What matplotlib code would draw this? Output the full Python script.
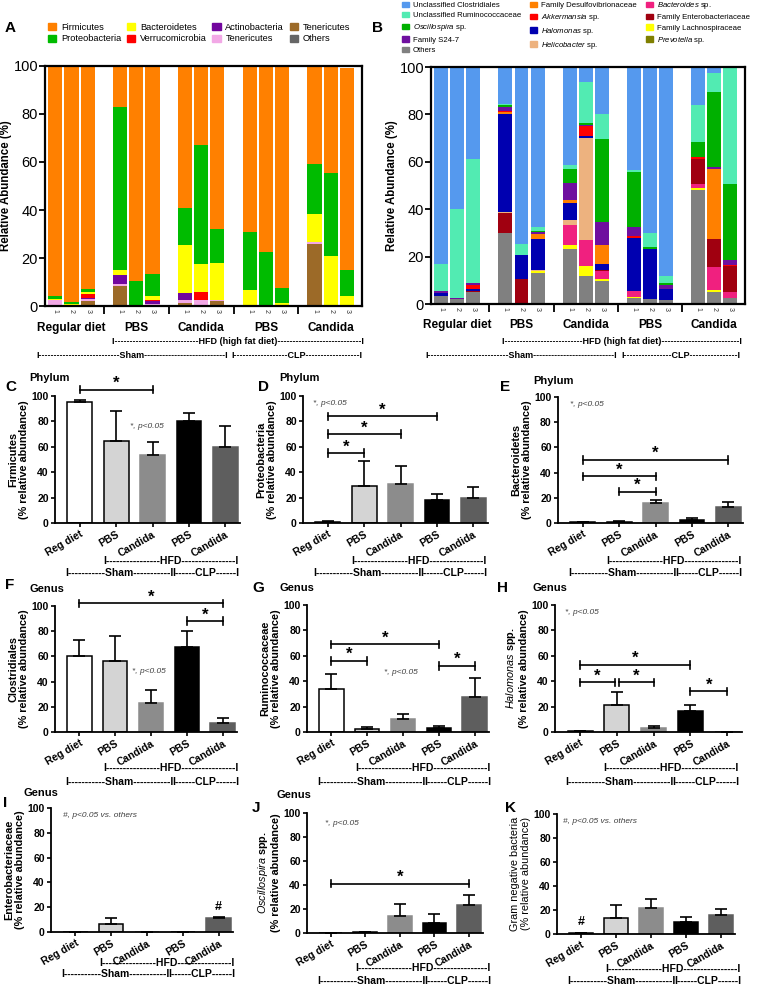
import matplotlib
matplotlib.use('Agg')
import matplotlib.pyplot as plt
import numpy as np
from matplotlib.patches import Patch
from matplotlib.textpath import TextPath
from matplotlib.font_manager import FontProperties
import matplotlib.transforms as mtrans

plt.rcParams['font.family'] = ['Liberation Sans', 'DejaVu Sans']
plt.rcParams['mathtext.fontset'] = 'custom'
plt.rcParams['mathtext.it'] = 'Liberation Sans:italic'
plt.rcParams['mathtext.rm'] = 'Liberation Sans'
plt.rcParams['mathtext.bf'] = 'Liberation Sans:bold'

# ---------------- data: panel A (phylum, 15 mice) ----------------
groups = ["Regular diet", "PBS", "Candida", "PBS", "Candida"]
mouse_ids = ["1", "2", "3"] * 5
slots = [0, 1, 2, 4, 5, 6, 8, 9, 10, 12, 13, 14, 16, 17, 18]

a_others = [0, 0, 0, 0, 0, 0, 0, 0, 0, 0, 0, 0, 0, 0, 0]
a_tener_brown = [0, 0, 2.0, 8.3, 0, 0, 1.3, 0, 2.0, 0, 0, 0, 26.0, 0, 0]
a_tener_pink = [2.3, 0.3, 1.0, 1.0, 0, 1.0, 1.4, 2.5, 0.3, 0, 0, 0, 0.7, 0.3, 0]
a_actino = [0, 0, 0.3, 3.7, 0, 1.2, 2.8, 0, 0, 0, 0, 0, 0, 0, 0]
a_verruco = [0, 0, 1.7, 0, 0, 0.3, 0, 3.3, 0, 0, 0, 0, 0, 0, 0]
a_bacteroid = [0.7, 0.5, 1.0, 2.0, 0.3, 1.5, 20.0, 11.7, 15.6, 6.5, 0.5, 1.3, 11.7, 20.5, 4.3]
a_proteo = [1.2, 1.0, 1.0, 68.0, 10.0, 9.3, 15.5, 49.5, 14.0, 24.3, 21.8, 6.0, 20.6, 34.5, 10.7]
a_firmi = [95.8, 98.2, 93.0, 17.0, 89.7, 86.7, 59.0, 33.0, 68.1, 69.2, 77.7, 92.7, 41.0, 44.7, 84.0]

# ---------------- data: panel B (genus, 15 mice) ----------------
b_others = [3.5, 2.0, 5.0, 30, 0, 13, 23, 12, 9.5, 2.5, 2, 1.5, 48, 5, 2.5]
b_lachno = [0, 0, 0, 0, 0, 1, 2, 4, 1, 0.5, 0, 0, 1, 1, 0]
b_prevotella = [0, 0, 0, 0, 0, 0, 0, 0, 0, 0, 0, 0, 0, 0, 0]
b_bacteroides = [0, 0, 0, 0, 0, 0, 8.5, 11, 3.5, 2.5, 0, 0, 1.5, 9.5, 2.5]
b_entero = [0, 0, 0.5, 8.5, 10.5, 0, 0, 0, 0.5, 0, 0, 0, 10.5, 12, 11]
b_helico = [0, 0, 0, 0.5, 0, 0.5, 2, 43, 0, 0, 0, 0, 0, 0, 0]
b_halo = [1.3, 0, 1.0, 41, 10, 13, 7, 1, 2.2, 22.5, 21, 5, 0, 0, 0]
b_desulfo = [0, 0, 0, 1, 0, 2, 1.5, 0, 8, 0, 0, 0, 0, 29.5, 0]
b_akk = [0, 0, 1.5, 0.5, 0, 0, 0, 4, 0, 0.5, 0, 0, 1, 0, 0.5]
b_s24 = [0.5, 0.5, 1.0, 1.5, 0, 0.8, 7, 0.5, 10, 4, 0, 1.5, 0, 1, 2]
b_oscillo = [0, 0, 0, 1, 0, 0.7, 6, 1, 35, 23, 1, 1, 6.5, 31.5, 32]
b_rumino = [11.7, 37.5, 52, 0.5, 5, 1.5, 1.5, 17, 10.3, 1, 6, 3, 15.5, 8, 49]
b_clost = [83, 60, 39, 15.5, 74.5, 67.5, 41.5, 6.5, 20, 43.5, 70, 88, 16, 2.5, 0.5]

# ---------------- data: panels C-K (mean, SEM) ----------------
bar_cats = ["Reg diet", "PBS", "Candida", "PBS", "Candida"]
firm_mean = [95.5, 64.5, 53.5, 80.0, 60.0]
firm_sem = [1.0, 23.5, 10.5, 6.5, 16.5]
proteo_mean = [1.0, 29.5, 30.5, 18.0, 19.5]
proteo_sem = [0.5, 19.0, 14.5, 5.0, 9.0]
bactd_mean = [0.5, 1.0, 16.0, 2.5, 12.5]
bactd_sem = [0.5, 0.5, 2.0, 1.5, 4.5]
clost_mean = [60.5, 56.0, 23.0, 67.5, 7.0]
clost_sem = [12.5, 20.5, 10.0, 13.0, 4.5]
rumino_mean = [34.0, 2.5, 10.0, 3.5, 27.5]
rumino_sem = [11.5, 1.3, 4.0, 1.5, 15.0]
halo_mean = [0.5, 21.5, 3.5, 16.5, 0.2]
halo_sem = [0.5, 10.0, 1.5, 5.0, 0.1]
entero_mean = [0.0, 6.5, 0.2, 0.0, 11.5]
entero_sem = [0.0, 4.5, 0.1, 0.0, 0.5]
oscillo_mean = [0.0, 0.5, 14.5, 8.5, 23.5]
oscillo_sem = [0.0, 0.3, 10.0, 7.0, 8.0]
gramneg_mean = [0.5, 13.5, 21.5, 10.0, 16.0]
gramneg_sem = [0.3, 11.0, 7.5, 4.0, 4.5]

W, H = 758, 985
fig = plt.figure(figsize=(W / 100, H / 100), dpi=100)


def axes_px(l, t, r, b):
    return fig.add_axes([l / W, 1 - b / H, (r - l) / W, (b - t) / H])


def ftext(x, y, s, **kw):
    return fig.text(x / W, 1 - y / H, s, **kw)


def tw(s, fs):
    fp = FontProperties(family='Liberation Sans', weight='bold')
    return TextPath((0, 0), s, size=fs, prop=fp).get_extents().width * 100 / 72


def dashed(x0, x1, y, label, fs):
    dw = (tw('-' * 21, fs) - tw('-', fs)) / 20
    core = tw('I' + label + 'I', fs)
    n = max(1, int(round((x1 - x0 - core) / dw / 2)))
    s = 'I' + '-' * n + label + '-' * n + 'I'
    ftext((x0 + x1) / 2, y, s, ha='center', va='center', fontsize=fs,
          fontweight='bold')


# ---------------- Panel A ----------------
axA = axes_px(45, 66, 362, 306)
a_layers = [
    (a_others, '#666666'), (a_tener_brown, '#9C6A28'), (a_tener_pink, '#F2A8E6'),
    (a_actino, '#72069E'), (a_verruco, '#FF0000'), (a_bacteroid, '#FFFF00'),
    (a_proteo, '#00BB00'), (a_firmi, '#FF8000'),
]
bottom = np.zeros(15)
for vals, col in a_layers:
    axA.bar(slots, vals, width=0.88, bottom=bottom, color=col, linewidth=0)
    bottom += np.array(vals)

# ---------------- Panel B ----------------
axB = axes_px(431, 67, 745, 304)
b_layers = [
    (b_others, '#808080'), (b_lachno, '#FFFF00'), (b_prevotella, '#7F7F00'),
    (b_bacteroides, '#F0207F'), (b_entero, '#A00010'), (b_helico, '#EDB27F'),
    (b_halo, '#0000B0'), (b_desulfo, '#FF8000'), (b_akk, '#FF0000'),
    (b_s24, '#6F0F9F'), (b_oscillo, '#00B000'), (b_rumino, '#52EBB2'),
    (b_clost, '#5599EE'),
]
bottom = np.zeros(15)
for vals, col in b_layers:
    axB.bar(slots, vals, width=0.87, bottom=bottom, color=col, linewidth=0)
    bottom += np.array(vals)

for ax in (axA, axB):
    ax.set_ylim(0, 100)
    ax.set_xlim(-0.64, 18.93)
    ax.set_yticks([0, 20, 40, 60, 80, 100])
    ax.tick_params(axis='y', labelsize=10.5, width=1.3, length=4, pad=1)
    for sp in ax.spines.values():
        sp.set_linewidth(1.6)
    ax.set_xticks([3, 7, 11, 15])
    ax.set_xticklabels([])
    ax.tick_params(axis='x', which='major', length=6, width=1.3)
    ax.set_xticks(slots, minor=True)
    ax.set_xticklabels(mouse_ids, minor=True)
    ax.tick_params(axis='x', which='minor', length=0, labelsize=5, labelrotation=-90,
                   pad=2, labelcolor='#333333')
    ax.set_ylabel('Relative Abundance (%)', fontsize=8.3, fontweight='bold', labelpad=1)
    trans = mtrans.blended_transform_factory(ax.transData, ax.transAxes)
    for gi, g in enumerate(groups):
        ax.text(slots[gi * 3 + 1], -0.09, g, transform=trans, ha='center', va='center',
                fontsize=8.5, fontweight='bold')

# lines under A and B
dashed(113, 362, 341, 'HFD (high fat diet)', 6.5)
dashed(37, 228, 355, 'Sham', 6.5)
dashed(232, 362, 355, 'CLP', 6.5)
dashed(502, 741, 341, 'HFD (high fat diet)', 6.5)
dashed(427, 615, 355, 'Sham', 6.5)
dashed(620, 741, 355, 'CLP', 6.5)

# legend A
a_leg = [('Firmicutes', '#FF8000'), ('Proteobacteria', '#00BB00'),
         ('Bacteroidetes', '#FFFF00'), ('Verrucomicrobia', '#FF0000'),
         ('Actinobacteria', '#72069E'), ('Tenericutes', '#F2A8E6'),
         ('Tenericutes', '#9C6A28'), ('Others', '#666666')]
fig.legend([Patch(color=c) for _, c in a_leg], [n for n, _ in a_leg], ncol=4,
           loc='upper left', bbox_to_anchor=(48 / W, 1 - 23 / H), frameon=False,
           fontsize=6.7, handlelength=0.9, handleheight=0.8, handletextpad=0.5,
           columnspacing=0.6, labelspacing=0.25, borderpad=0, borderaxespad=0)

# legend B
b_leg = [('Unclassified Clostridiales', '#5599EE'),
         ('Unclassified Ruminococcaceae', '#52EBB2'),
         (r'$\it{Oscillospira}$ sp.', '#00B000'),
         ('Family S24-7', '#6F0F9F'),
         ('Others', '#808080'),
         ('Family Desulfovibrionaceae', '#FF8000'),
         (r'$\it{Akkermansia}$ sp.', '#FF0000'),
         (r'$\it{Halomonas}$ sp.', '#0000B0'),
         (r'$\it{Helicobacter}$ sp.', '#EDB27F'),
         (r'$\it{Bacteroides}$ sp.', '#F0207F'),
         ('Family Enterobacteriaceae', '#A00010'),
         ('Family Lachnospiraceae', '#FFFF00'),
         (r'$\it{Prevotella}$ sp.', '#7F7F00')]
fig.legend([Patch(color=c) for _, c in b_leg], [n for n, _ in b_leg], ncol=3,
           loc='upper left', bbox_to_anchor=(402 / W, 1 - 0 / H), frameon=False,
           fontsize=5.6, handlelength=0.9, handleheight=0.7, handletextpad=0.5,
           columnspacing=1.15, labelspacing=0.38, borderpad=0, borderaxespad=0)

ftext(5, 28, 'A', fontsize=11, fontweight='bold', va='center')
ftext(372, 28, 'B', fontsize=11, fontweight='bold', va='center')

# ---------------- Panels C-K ----------------
bar_colors = ['white', '#D4D4D4', '#8C8C8C', 'black', '#5E5E5E']
bar_edges = ['black', 'black', '#8C8C8C', 'black', '#5E5E5E']

panels = [
    dict(L='C', top='Phylum', m=firm_mean, e=firm_sem, rect=(55, 396, 240, 523),
         yl='Firmicutes\n(% relative abundance)', sig=[(0, 2, 105)],
         note=(1.85, 76, 'center', '*, p<0.05'), let=(5, 387), tpos=(50, 378), off=(38, 50)),
    dict(L='D', top='Phylum', m=proteo_mean, e=proteo_sem, rect=(303, 396, 488, 523),
         yl='Proteobacteria\n(% relative abundance)', sig=[(0, 1, 55), (0, 2, 70), (0, 3, 84)],
         note=(-0.4, 94, 'left', '*, p<0.05'), let=(258, 387), tpos=(300, 378), off=(38, 50)),
    dict(L='E', top='Phylum', m=bactd_mean, e=bactd_sem, rect=(558, 397, 743, 523),
         yl='Bacteroidetes\n(% relative abundance)', sig=[(1, 2, 25), (0, 2, 37), (0, 4, 50)],
         note=(-0.35, 94, 'left', '*, p<0.05'), let=(500, 387), tpos=(553, 381), off=(38, 50)),
    dict(L='F', top='Genus', m=clost_mean, e=clost_sem, rect=(55, 606, 237, 732),
         yl='Clostridiales\n(% relative abundance)', sig=[(3, 4, 88), (0, 4, 102)],
         note=(1.95, 48, 'center', '*, p<0.05'), let=(5, 585), tpos=(47, 589), off=(36, 50)),
    dict(L='G', top='Genus', m=rumino_mean, e=rumino_sem, rect=(307, 605, 489, 732),
         yl='Ruminococcaceae\n(% relative abundance)', sig=[(0, 1, 56), (3, 4, 52), (0, 3, 69)],
         note=(1.95, 47, 'center', '*, p<0.05'), let=(252, 588), tpos=(297, 588), off=(36, 50)),
    dict(L='H', top='Genus', m=halo_mean, e=halo_sem, rect=(555, 605, 742, 732),
         yl=r'$\it{Halomonas}$ spp.' + '\n(% relative abundance)',
         sig=[(0, 0.95, 39), (1.05, 2, 39), (3, 4, 32), (0, 3, 53)],
         note=(-0.4, 94, 'left', '*, p<0.05'), let=(497, 588), tpos=(550, 588), off=(36, 50)),
    dict(L='I', top='Genus', m=entero_mean, e=entero_sem, rect=(51, 808, 233, 932),
         yl='Enterobacteriaceae\n(% relative abundance)', sig=[], hashx=4, hashy=15,
         note=(-0.35, 94, 'left', '#, p<0.05 vs. others'), let=(3, 803), tpos=(41, 793), off=(31, 42)),
    dict(L='J', top='Genus', m=oscillo_mean, e=oscillo_sem, rect=(307, 813, 483, 933),
         yl=r'$\it{Oscillospira}$ spp.' + '\n(% relative abundance)', sig=[(0, 4, 41)],
         note=(-0.15, 91, 'left', '*, p<0.05'), let=(252, 808), tpos=(294, 795), off=(35, 48)),
    dict(L='K', top=None, m=gramneg_mean, e=gramneg_sem, rect=(557, 814, 735, 934),
         yl='Gram negative bacteria\n(% relative abundance)', sig=[], hashx=0, hashy=5,
         note=(-0.5, 94, 'left', '#, p<0.05 vs. others'), let=(505, 808), tpos=None, off=(35, 47)),
]

x = np.arange(5)
for p in panels:
    l, t, r, b = p['rect']
    ax = axes_px(l, t, r, b)
    ax.bar(x, p['m'], width=0.68, color=bar_colors, edgecolor=bar_edges, linewidth=1.1,
           zorder=2)
    ax.errorbar(x, p['m'], yerr=[np.zeros(5), p['e']], fmt='none', ecolor='black',
                elinewidth=1.2, capsize=4, capthick=1.2, zorder=3)
    ax.set_xlim(-0.68, 4.4)
    ax.set_ylim(0, 100)
    ax.set_yticks([0, 20, 40, 60, 80, 100])
    ax.spines['top'].set_visible(False)
    ax.spines['right'].set_visible(False)
    ax.spines['left'].set_linewidth(1.3)
    ax.spines['bottom'].set_linewidth(1.3)
    ax.tick_params(width=1.2, length=3, pad=1.5)
    ax.set_xticks(x)
    ax.set_xticklabels(bar_cats, rotation=30, ha='right', rotation_mode='anchor',
                       fontsize=7.5, fontweight='bold')
    for tl in ax.get_yticklabels():
        tl.set_fontsize(7.5)
        tl.set_fontweight('bold')
    ax.set_ylabel(p['yl'], fontsize=7.8, fontweight='normal' if p['L'] == 'K' else 'bold',
                  labelpad=2, linespacing=1.05)
    for (x1, x2, yy) in p['sig']:
        ax.plot([x1, x2], [yy, yy], color='black', lw=1.2, clip_on=False, zorder=4)
        for xx in (x1, x2):
            ax.plot([xx, xx], [yy - 3, yy + 3], color='black', lw=1.2, clip_on=False,
                    zorder=4)
        ax.text((x1 + x2) / 2, yy - 1, '*', ha='center', va='bottom', fontsize=12,
                fontweight='bold', clip_on=False)
    if 'hashx' in p:
        ax.text(p['hashx'], p['hashy'], '#', ha='center', va='bottom', fontsize=9,
                fontweight='bold')
    nx, ny, nha, ns = p['note']
    ax.text(nx, ny, ns, ha=nha, va='center', fontsize=6, fontstyle='italic',
            color='#404040')
    ftext(p['let'][0], p['let'][1], p['L'], fontsize=11, fontweight='bold', va='center')
    if p['top']:
        ftext(p['tpos'][0], p['tpos'][1], p['top'], fontsize=8, fontweight='bold',
              ha='center', va='center')
    o1, o2 = p['off']
    dashed(l + 48, l + 183, b + o1, 'HFD', 7.5)
    dashed(l + 11, l + 118, b + o2, 'Sham', 7.5)
    dashed(l + 118, l + 183, b + o2, 'CLP', 7.5)

fig.savefig('out.png', dpi=100)
